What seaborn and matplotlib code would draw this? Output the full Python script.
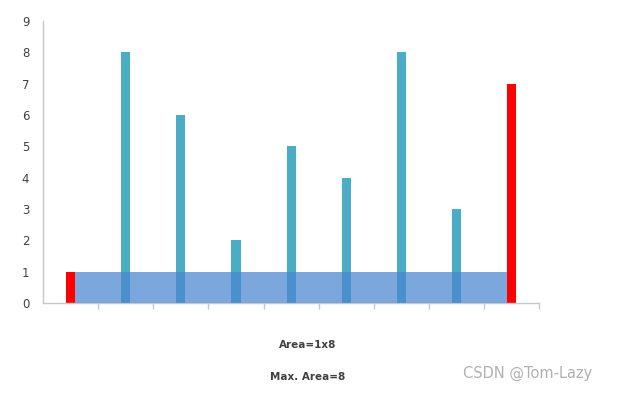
import numpy as np
import pandas as pd
import seaborn as sns
import matplotlib.pyplot as plt
from matplotlib.patches import Rectangle

# heights of the container walls
positions = ['1', '2', '3', '4', '5', '6', '7', '8', '9']
heights = [1, 8, 6, 2, 5, 4, 8, 3, 7]
left_idx, right_idx = 0, 8
labels = ['Area=1x8', 'Max. Area=8']

if __name__ == "__main__":
    sns.set_style('white')
    plt.rcParams['font.family'] = ['DejaVu Sans']

    df = pd.DataFrame({'pos': positions, 'h': heights})
    colors = ['#ff0000' if i in (left_idx, right_idx) else '#4bacc6' for i in range(len(heights))]

    fig = plt.figure(figsize=(6.18, 3.93), dpi=100)
    ax = fig.add_axes([0.07, 0.229, 0.802, 0.718])

    sns.barplot(data=df, x='pos', y='h', hue='pos', palette=colors, legend=False,
                width=0.165, saturation=1, linewidth=0, ax=ax)

    # --- water area between the two chosen walls ---
    pl = ax.patches[left_idx]
    pr = ax.patches[right_idx]
    x0 = pl.get_x() + pl.get_width()
    x1 = pr.get_x()
    h = min(heights[left_idx], heights[right_idx])
    ax.add_patch(Rectangle((x0, 0), x1 - x0, h, facecolor='#4a86d0', alpha=0.72,
                           edgecolor='none', zorder=3))

    ax.set_xlim(-0.5, len(heights) - 0.5)
    ax.set_ylim(0, 9)
    ax.set_yticks(range(0, 10))
    ax.set_xticks(np.arange(0.5, len(heights), 1))
    ax.set_xticklabels([])
    ax.set_xlabel('')
    ax.set_ylabel('')

    for s in ['top', 'right']:
        ax.spines[s].set_visible(False)
    for s in ['left', 'bottom']:
        ax.spines[s].set_color('#c8c8c8')
        ax.spines[s].set_linewidth(1)
    ax.tick_params(axis='both', which='both', direction='out', length=4, width=1,
                   color='#c8c8c8', labelsize=8.5, labelcolor='#404040')
    ax.tick_params(axis='y', pad=6)
    ax.tick_params(axis='x', bottom=True)

    fig.text(308 / 618, 1 - 345 / 393, labels[0], ha='center', va='center',
             fontsize=7.5, color='#404040', fontweight='bold')
    fig.text(308 / 618, 1 - 377 / 393, labels[1], ha='center', va='center',
             fontsize=7.5, color='#404040', fontweight='bold')
    fig.text(528 / 618, 1 - 373 / 393, 'CSDN @Tom-Lazy', ha='center', va='center',
             fontsize=10.5, color='#b0b0b0')

    fig.savefig('out.png', dpi=100)
